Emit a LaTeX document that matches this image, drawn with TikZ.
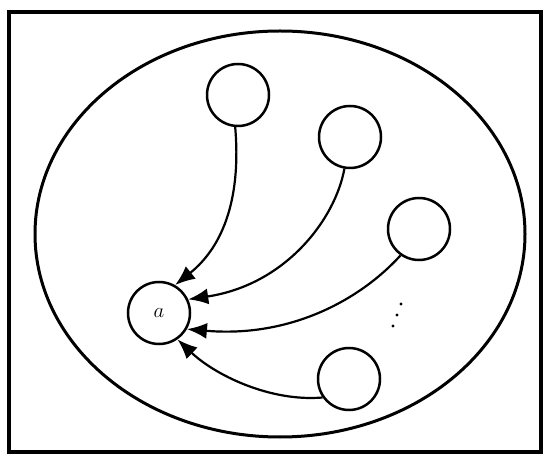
\documentclass[tikz,border=0pt]{standalone}
\usetikzlibrary{arrows.meta}
\begin{document}
\begin{tikzpicture}[x=1pt,y=-1pt,
  cnode/.style={draw,circle,line width=2.5pt,minimum size=62pt,inner sep=0pt,font=\fontsize{22}{26}\selectfont},
  arr/.style={line width=2.2pt,-{Latex[length=20pt,width=16pt]}}]
\useasboundingbox (0,0) rectangle (549,454);
\draw[line width=3.5pt] (9,12) rectangle (541,452);
\draw[line width=3pt] (280,234) ellipse [x radius=245pt, y radius=203pt];
\node[cnode] (n1) at (238,95) {};
\node[cnode] (n2) at (350,137) {};
\node[cnode] (n3) at (419,229) {};
\node[cnode] (n4) at (349,379) {};
\node[cnode] (a) at (159,313) {$a$};
\draw[arr] (n1.-95) .. controls (241,195) and (225,245) .. (a.60);
\draw[arr] (n2.-100) .. controls (335,220) and (285,285) .. (a.25);
\draw[arr] (n3.-125) .. controls (360,300) and (290,338) .. (a.-30);
\draw[arr] (n4.215) .. controls (270,402) and (215,375) .. (a.-55);
\fill (401,304) circle (1.7pt);
\fill (397,315) circle (1.7pt);
\fill (393,326) circle (1.7pt);
\end{tikzpicture}
\end{document}
